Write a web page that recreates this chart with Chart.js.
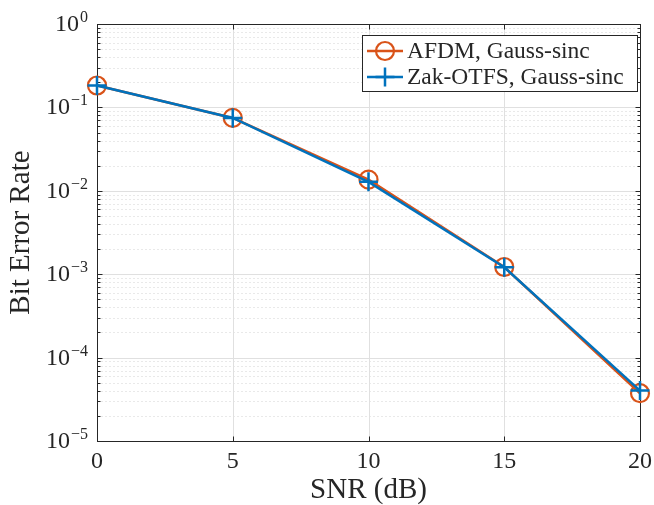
<!DOCTYPE html>
<html>
<head>
<meta charset="utf-8">
<title>BER vs SNR</title>
<script src="https://cdn.jsdelivr.net/npm/chart.js@4/dist/chart.umd.min.js"></script>
<style>
  html, body { margin: 0; padding: 0; background: #ffffff; }
  #wrap { width: 654px; height: 505px; position: relative; }
</style>
</head>
<body>
<div id="wrap"><canvas id="berChart"></canvas></div>
<script>
// SNR points (dB)
const snrDb = [0, 5, 10, 15, 20];
// Bit error rate per waveform
const berAfdm = [0.183, 0.0748, 0.0136, 0.00122, 3.74e-5];
const berZakOtfs = [0.183, 0.0748, 0.0128, 0.00121, 4.02e-5];
// Axis ticks
const xTicks = [0, 5, 10, 15, 20];
const yDecades = [0, -1, -2, -3, -4, -5];
// Text
const seriesNames = ['AFDM, Gauss-sinc', 'Zak-OTFS, Gauss-sinc'];
const xTitle = 'SNR (dB)';
const yTitle = 'Bit Error Rate';

const INK = '#262626';
const SERIF = '"Liberation Serif", "Times New Roman", serif';
const ORANGE = '#D95319';
const BLUE = '#0072BD';

const snap = v => Math.round(v) + 0.5;

// Box, grid, inward ticks and power-of-ten labels, drawn under the data
const axesPlugin = {
  id: 'boxedAxes',
  beforeDatasetsDraw(chart) {
    const { ctx, chartArea: a, scales: { x, y } } = chart;
    const L = snap(a.left), R = snap(a.right), T = snap(a.top), B = snap(a.bottom);
    ctx.save();
    ctx.lineWidth = 1;

    // minor grid (dotted) at 2..9 x 10^e
    ctx.strokeStyle = '#d2d2d2';
    ctx.setLineDash([1, 3]);
    ctx.beginPath();
    for (const e of yDecades) {
      if (e === 0) continue;
      for (let k = 2; k <= 9; k++) {
        const yy = snap(y.getPixelForValue(k * Math.pow(10, e)));
        ctx.moveTo(L, yy); ctx.lineTo(R, yy);
      }
    }
    ctx.stroke();

    // major grid (solid)
    ctx.setLineDash([]);
    ctx.strokeStyle = '#e0e0e0';
    ctx.beginPath();
    for (const e of yDecades) {
      const yy = snap(y.getPixelForValue(Math.pow(10, e)));
      ctx.moveTo(L, yy); ctx.lineTo(R, yy);
    }
    for (const v of xTicks) {
      const xx = snap(x.getPixelForValue(v));
      ctx.moveTo(xx, T); ctx.lineTo(xx, B);
    }
    ctx.stroke();

    // axes box
    ctx.strokeStyle = INK;
    ctx.strokeRect(L, T, R - L, B - T);

    // inward ticks
    ctx.beginPath();
    for (const v of xTicks) {
      const xx = snap(x.getPixelForValue(v));
      ctx.moveTo(xx, B); ctx.lineTo(xx, B - 5);
      ctx.moveTo(xx, T); ctx.lineTo(xx, T + 5);
    }
    for (const e of yDecades) {
      const yy = snap(y.getPixelForValue(Math.pow(10, e)));
      ctx.moveTo(L, yy); ctx.lineTo(L + 5, yy);
      ctx.moveTo(R, yy); ctx.lineTo(R - 5, yy);
      if (e === 0) continue;
      for (let k = 2; k <= 9; k++) {
        const ym = snap(y.getPixelForValue(k * Math.pow(10, e)));
        ctx.moveTo(L, ym); ctx.lineTo(L + 3, ym);
        ctx.moveTo(R, ym); ctx.lineTo(R - 3, ym);
      }
    }
    ctx.stroke();

    // y tick labels 10^e
    ctx.fillStyle = INK;
    ctx.textBaseline = 'alphabetic';
    ctx.textAlign = 'left';
    const rightEdge = a.left - 9;
    for (const e of yDecades) {
      const yy = y.getPixelForValue(Math.pow(10, e));
      const sup = e === 0 ? '0' : '\u2212' + (-e);
      ctx.font = '16px ' + SERIF;
      const wSup = ctx.measureText(sup).width;
      ctx.font = '24px ' + SERIF;
      const wBase = ctx.measureText('10').width;
      const x0 = rightEdge - wSup - 1 - wBase;
      ctx.fillText('10', x0, yy + 7);
      ctx.font = '16px ' + SERIF;
      ctx.fillText(sup, rightEdge - wSup, yy - 2);
    }
    ctx.restore();
  },

  // legend box in the upper right corner of the plot
  afterDatasetsDraw(chart) {
    const { ctx, chartArea: a } = chart;
    const sets = chart.data.datasets;
    ctx.save();
    ctx.font = '23.5px ' + SERIF;
    let maxW = 0;
    for (const ds of sets) maxW = Math.max(maxW, ctx.measureText(ds.label).width);
    const boxW = Math.round(45 + maxW + 13);
    const boxR = Math.round(a.right) - 3;
    const boxL = boxR - boxW;
    const boxT = Math.round(a.top) + 11;
    const boxH = 56;
    ctx.fillStyle = '#ffffff';
    ctx.fillRect(boxL + 0.5, boxT + 0.5, boxW, boxH);
    ctx.strokeStyle = INK;
    ctx.lineWidth = 1;
    ctx.strokeRect(boxL + 0.5, boxT + 0.5, boxW, boxH);

    sets.forEach((ds, i) => {
      const cy = boxT + 16 + i * 26;
      const x1 = boxL + 5, x2 = boxL + 41, cx = (x1 + x2) / 2;
      ctx.strokeStyle = ds.borderColor;
      ctx.lineWidth = ds.borderWidth;
      ctx.beginPath();
      ctx.moveTo(x1, cy); ctx.lineTo(x2, cy);
      ctx.stroke();
      ctx.lineWidth = ds.pointBorderWidth;
      ctx.beginPath();
      if (ds.pointStyle === 'circle') {
        ctx.arc(cx, cy, ds.pointRadius, 0, Math.PI * 2);
      } else {
        ctx.moveTo(cx - ds.pointRadius, cy); ctx.lineTo(cx + ds.pointRadius, cy);
        ctx.moveTo(cx, cy - ds.pointRadius); ctx.lineTo(cx, cy + ds.pointRadius);
      }
      ctx.stroke();
      ctx.fillStyle = INK;
      ctx.textBaseline = 'middle';
      ctx.textAlign = 'left';
      ctx.fillText(ds.label, boxL + 45, cy + 1);
    });
    ctx.restore();
  }
};

new Chart(document.getElementById('berChart'), {
  type: 'line',
  data: {
    datasets: [
      {
        label: seriesNames[0],
        data: snrDb.map((v, i) => ({ x: v, y: berAfdm[i] })),
        borderColor: ORANGE,
        borderWidth: 2.5,
        pointStyle: 'circle',
        pointRadius: 9,
        pointBorderWidth: 2.2,
        pointBorderColor: ORANGE,
        pointBackgroundColor: 'rgba(0,0,0,0)',
        fill: false,
        tension: 0,
        clip: false,
        order: 1
      },
      {
        label: seriesNames[1],
        data: snrDb.map((v, i) => ({ x: v, y: berZakOtfs[i] })),
        borderColor: BLUE,
        borderWidth: 2.5,
        pointStyle: 'cross',
        pointRadius: 9.5,
        pointBorderWidth: 2.5,
        pointBorderColor: BLUE,
        pointBackgroundColor: BLUE,
        fill: false,
        tension: 0,
        clip: false,
        order: 0
      }
    ]
  },
  options: {
    responsive: true,
    maintainAspectRatio: false,
    animation: false,
    devicePixelRatio: 1,
    events: [],
    layout: { padding: { top: 24, right: 14, left: 0, bottom: 0 } },
    plugins: { legend: { display: false }, tooltip: { enabled: false } },
    scales: {
      x: {
        type: 'linear',
        min: 0,
        max: 20,
        afterBuildTicks: s => { s.ticks = xTicks.map(v => ({ value: v })); },
        ticks: { font: { family: SERIF, size: 24 }, color: INK, padding: 6, maxRotation: 0 },
        grid: { display: false, drawTicks: false },
        border: { display: false },
        title: {
          display: true, text: xTitle, color: INK,
          font: { family: SERIF, size: 29, lineHeight: 1 },
          padding: { top: 0, bottom: 0 }
        },
        afterFit: s => { s.height = 64; s.paddingLeft = 0; s.paddingRight = 0; }
      },
      y: {
        type: 'logarithmic',
        min: 1e-5,
        max: 1,
        ticks: { display: false },
        grid: { display: false, drawTicks: false },
        border: { display: false },
        title: {
          display: true, text: yTitle, color: INK,
          font: { family: SERIF, size: 29, lineHeight: 1 },
          padding: { top: 7, bottom: 0 }
        },
        afterFit: s => { s.width = 97; s.paddingTop = 0; s.paddingBottom = 0; }
      }
    }
  },
  plugins: [axesPlugin]
});
</script>
</body>
</html>
